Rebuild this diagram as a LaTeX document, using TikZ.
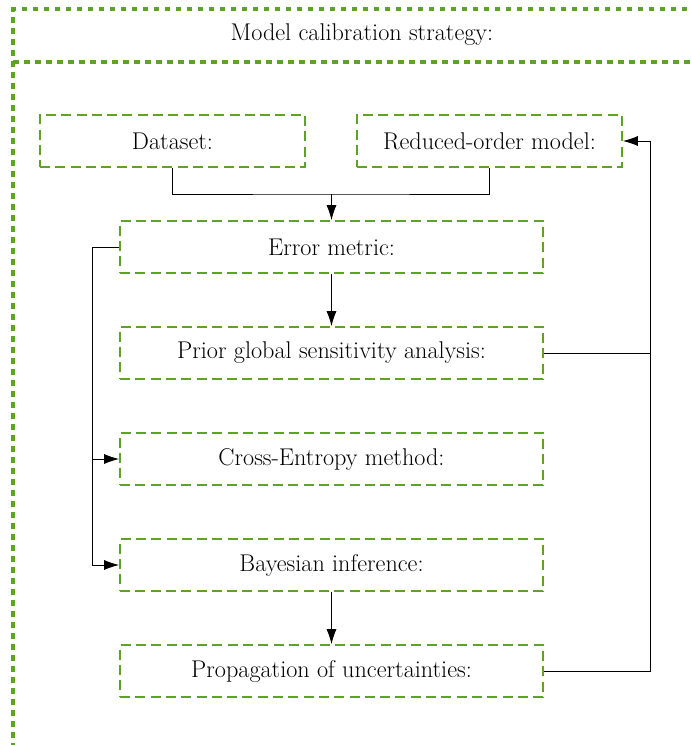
\documentclass[tikz,border=0pt]{standalone}
\usetikzlibrary{arrows.meta}
\definecolor{framegreen}{RGB}{94,163,38}
\begin{document}
\begin{tikzpicture}[x=1pt,y=-1pt,
  font=\fontsize{24.2}{29}\selectfont,
  stepbox/.style={draw=framegreen, line width=1.7pt, dash pattern=on 10pt off 5.3pt,
    minimum height=52pt, inner sep=0pt},
  wide/.style={minimum width=423pt},
  small/.style={minimum width=265pt},
  frameline/.style={draw=framegreen, line width=3.1pt, dash pattern=on 5.5pt off 5.5pt},
  conn/.style={draw=black, line width=0.9pt},
  arr/.style={conn, -{Latex[length=15pt,width=10pt]}}]
\useasboundingbox (0,0) rectangle (692,745);
% frame
\coordinate (ftl) at (13,9);
\coordinate (ftr) at (720,9);
\coordinate (fml) at (13,62);
\coordinate (fmr) at (720,62);
\coordinate (fbl) at (13,760);
\draw[frameline] (ftr) -- (ftl) -- (fbl);
\draw[frameline] (fml) -- (fmr);
\node (title) at (362,35) {Model calibration strategy:};
% boxes
\node[stepbox,small] (data) at (172.5,141) {Dataset:};
\node[stepbox,small] (rom) at (489.5,141) {Reduced-order model:};
\node[stepbox,wide] (err) at (331.5,247) {Error metric:};
\node[stepbox,wide] (gsa) at (331.5,353) {Prior global sensitivity analysis:};
\node[stepbox,wide] (ce) at (331.5,459) {Cross-Entropy method:};
\node[stepbox,wide] (bay) at (331.5,565) {Bayesian inference:};
\node[stepbox,wide] (prop) at (331.5,671) {Propagation of uncertainties:};
% connectors
\coordinate (j1) at (331.5,194);
\draw[conn] (data.south) |- (j1) -| (rom.south);
\draw[arr] (j1) -- (err.north);
\draw[arr] (err.south) -- (gsa.north);
\coordinate (lx) at (92,247);
\draw[conn] (err.west) -- (lx);
\draw[arr] (lx) |- (ce.west);
\draw[arr] (lx) |- (bay.west);
\coordinate (rx) at (650,353);
\draw[conn] (gsa.east) -- (rx);
\draw[arr] (rx) |- (rom.east);
\draw[conn] (prop.east) -| (rx);
\draw[arr] (bay.south) -- (prop.north);
\end{tikzpicture}
\end{document}
